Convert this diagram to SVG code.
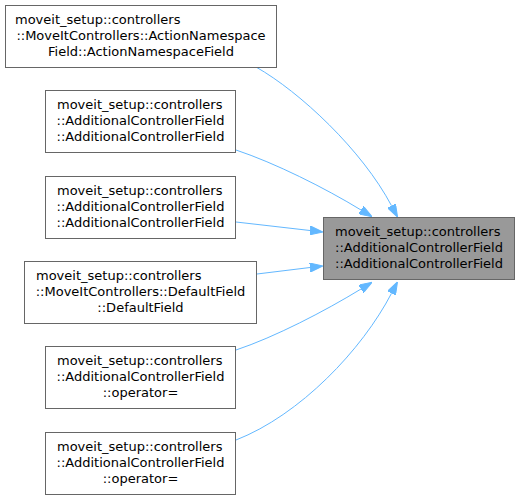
<svg xmlns="http://www.w3.org/2000/svg" width="520" height="499" viewBox="0 0 520 499">
<style>
.n rect{fill:#ffffff;stroke:#666666;stroke-width:1}
.t rect{fill:#999999;stroke:#666666;stroke-width:1}
text{font-family:"DejaVu Sans",sans-serif;font-size:13px;fill:#000000}
.m{text-anchor:middle}
.s{text-anchor:start}
.e path{fill:none;stroke:#63b8ff;stroke-width:1;marker-end:url(#ah)}
</style>
<defs>
<marker id="ah" viewBox="0 0 13 9" refX="0" refY="4.5" markerWidth="13" markerHeight="9" markerUnits="userSpaceOnUse" orient="auto">
<path d="M0,0 L13,4.5 L0,9 Z" fill="#63b8ff" stroke="#63b8ff" stroke-width="1"/>
</marker>
</defs>
<rect width="520" height="499" fill="#ffffff"/>
<g id="edges" class="e">
<path d="M256,67 C300,92 362,150 391.5,205.7"/>
<path d="M236,150 C275,163 325,188 361,210"/>
<path d="M236,222 L310,230.5"/>
<path d="M257,274 L310,267.5"/>
<path d="M236,350 C275,337 325,311 361,289"/>
<path d="M236,440 C300,415 362,350 391.5,293.3"/>
</g>
<g id="target" class="t">
<rect x="323.5" y="217.5" width="191" height="62"/>
<text class="s" x="335" y="236">moveit_setup::controllers</text>
<text class="m" x="419" y="252">::AdditionalControllerField</text>
<text class="m" x="419" y="268">::AdditionalControllerField</text>
</g>
<g id="node1" class="n">
<rect x="5.5" y="5.5" width="271" height="62"/>
<text class="s" x="15" y="24">moveit_setup::controllers</text>
<text class="m" x="141" y="40">::MoveItControllers::ActionNamespace</text>
<text class="m" x="141" y="56">Field::ActionNamespaceField</text>
</g>
<g id="node2" class="n">
<rect x="45.5" y="90.5" width="190" height="62"/>
<text class="s" x="57" y="109">moveit_setup::controllers</text>
<text class="m" x="140.5" y="125">::AdditionalControllerField</text>
<text class="m" x="140.5" y="141">::AdditionalControllerField</text>
</g>
<g id="node3" class="n">
<rect x="45.5" y="176.5" width="190" height="62"/>
<text class="s" x="57" y="195">moveit_setup::controllers</text>
<text class="m" x="140.5" y="211">::AdditionalControllerField</text>
<text class="m" x="140.5" y="227">::AdditionalControllerField</text>
</g>
<g id="node4" class="n">
<rect x="24.5" y="261.5" width="232" height="62"/>
<text class="s" x="36" y="280">moveit_setup::controllers</text>
<text class="m" x="140.5" y="296">::MoveItControllers::DefaultField</text>
<text class="m" x="140.5" y="312">::DefaultField</text>
</g>
<g id="node5" class="n">
<rect x="45.5" y="346.5" width="190" height="62"/>
<text class="s" x="57" y="365">moveit_setup::controllers</text>
<text class="m" x="140.5" y="381">::AdditionalControllerField</text>
<text class="m" x="140.5" y="397">::operator=</text>
</g>
<g id="node6" class="n">
<rect x="45.5" y="432.5" width="190" height="62"/>
<text class="s" x="57" y="451">moveit_setup::controllers</text>
<text class="m" x="140.5" y="467">::AdditionalControllerField</text>
<text class="m" x="140.5" y="483">::operator=</text>
</g>
</svg>
